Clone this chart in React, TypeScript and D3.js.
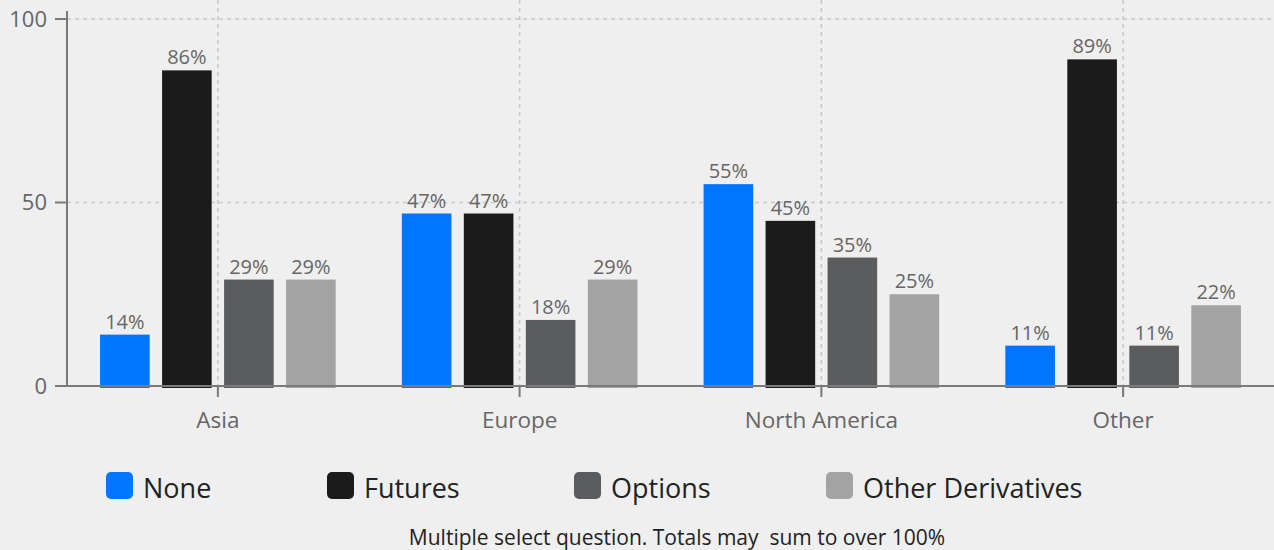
import React from "react";
import * as d3 from "d3";

const categories = ["Asia", "Europe", "North America", "Other"];
const series = ["None", "Futures", "Options", "Other Derivatives"];
const noneValues = [14, 47, 55, 11];
const futuresValues = [86, 47, 45, 89];
const optionsValues = [29, 18, 35, 11];
const otherDerivValues = [29, 29, 25, 22];
const colors = ["#0075FF", "#1b1b1b", "#5b5c5e", "#a3a3a3"];
const yTicks = [0, 50, 100];
const footnote = "Multiple select question. Totals may  sum to over 100%";

const W = 1274;
const H = 550;
const FONT = "'Open Sans', 'Noto Sans', sans-serif";

export default function App() {
  const values = [noneValues, futuresValues, optionsValues, otherDerivValues];
  const left = 67;
  const right = W;
  const top = 19;
  const bottom = 386;

  const x0 = d3.scaleBand<string>().domain(categories).range([left, right]).padding(0);
  const x1 = d3
    .scaleBand<string>()
    .domain(series)
    .range([-124, 124])
    .paddingInner(0.2)
    .paddingOuter(0.1);
  const y = d3.scaleLinear().domain([0, 100]).range([bottom, top]);

  const legendX = [106, 327, 574, 826];

  return (
    <svg
      width={W}
      height={H}
      style={{ position: "absolute", left: 0, top: 0, background: "#efefef" }}
      fontFamily={FONT}
    >
      <rect x={0} y={0} width={W} height={H} fill="#efefef" />
      {yTicks
        .filter((t) => t > 0)
        .map((t) => (
          <line
            key={"hg" + t}
            x1={left}
            x2={right}
            y1={y(t)}
            y2={y(t)}
            stroke="#c8c8c8"
            strokeWidth={1.5}
            strokeDasharray="4,4"
          />
        ))}
      {categories.map((c) => {
        const cx = (x0(c) as number) + x0.bandwidth() / 2;
        return (
          <line
            key={"vg" + c}
            x1={cx}
            x2={cx}
            y1={0}
            y2={bottom}
            stroke="#c8c8c8"
            strokeWidth={1.5}
            strokeDasharray="4,4"
          />
        );
      })}
      {categories.map((c, ci) => {
        const cx = (x0(c) as number) + x0.bandwidth() / 2;
        return series.map((s, si) => {
          const v = values[si][ci];
          const bx = cx + (x1(s) as number);
          return (
            <g key={c + s}>
              <rect
                x={bx}
                y={y(v)}
                width={x1.bandwidth()}
                height={bottom + 2 - y(v)}
                fill={colors[si]}
              />
              <text
                x={bx + x1.bandwidth() / 2}
                y={y(v) - 6}
                textAnchor="middle"
                fontSize={20}
                fill="#666"
              >
                {v}%
              </text>
            </g>
          );
        });
      })}
      <line x1={left} x2={left} y1={top - 8} y2={bottom} stroke="#7a7a7a" strokeWidth={2} />
      {yTicks.map((t) => (
        <g key={"yt" + t}>
          <line x1={55} x2={left} y1={y(t)} y2={y(t)} stroke="#7a7a7a" strokeWidth={2} />
          <text
            x={47}
            y={y(t)}
            dy="0.35em"
            textAnchor="end"
            fontSize={22}
            fill="#666"
          >
            {t}
          </text>
        </g>
      ))}
      <line x1={55} x2={right} y1={bottom} y2={bottom} stroke="#7a7a7a" strokeWidth={2} />
      {categories.map((c) => {
        const cx = (x0(c) as number) + x0.bandwidth() / 2;
        return (
          <g key={"xt" + c}>
            <line x1={cx} x2={cx} y1={bottom} y2={bottom + 11} stroke="#7a7a7a" strokeWidth={2} />
            <text x={cx} y={428} textAnchor="middle" fontSize={22.5} fill="#666">
              {c}
            </text>
          </g>
        );
      })}
      {series.map((s, i) => (
        <g key={"lg" + s}>
          <rect x={legendX[i]} y={472} width={27} height={27} rx={5} fill={colors[i]} />
          <text x={legendX[i] + 37} y={498} fontSize={27} fill="#222">
            {s}
          </text>
        </g>
      ))}
      <text
        x={677}
        y={545}
        textAnchor="middle"
        fontSize={21}
        fill="#222"
        style={{ whiteSpace: "pre" }}
      >
        {footnote}
      </text>
    </svg>
  );
}
